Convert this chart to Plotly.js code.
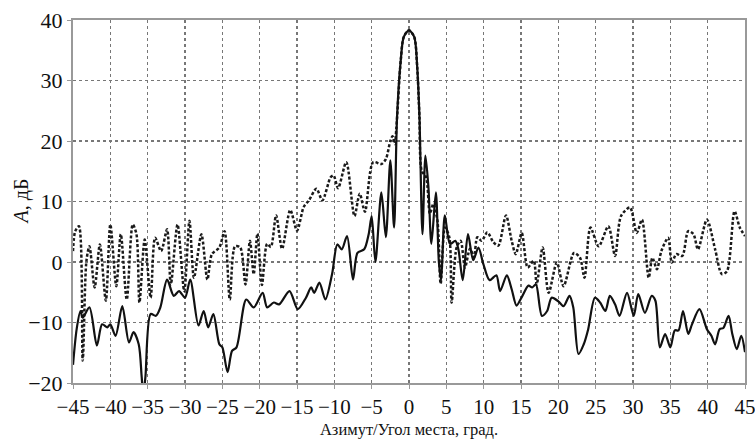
<!DOCTYPE html>
<html>
<head>
<meta charset="utf-8">
<script src="https://cdn.plot.ly/plotly-3.0.1.min.js"></script>
<style>html,body{margin:0;padding:0;background:#fff}#chart{width:755px;height:441px}</style>
</head>
<body>
<div id="chart"></div>
<script>
// Solid curve (angle, deg / level, dB)
const solidX = [-45,-44.5,-44.0,-43.7,-42.8,-41.8,-41.1,-40.4,-40.0,-39.3,-38.4,-37.5,-36.9,-36.2,-35.8,-35.6,-35.3,-34.6,-33.9,-33.3,-32.4,-31.5,-30.8,-30.0,-29.3,-28.2,-27.5,-26.9,-26.2,-25.4,-25.0,-24.3,-23.7,-23.1,-21.8,-20.8,-19.6,-19.0,-18.1,-17.4,-16.0,-14.9,-13.8,-13.1,-12.7,-12.0,-11.2,-10.3,-9.6,-9.0,-8.3,-7.5,-6.9,-6.0,-5.4,-5.0,-4.5,-3.7,-3.1,-2.5,-2.0,-1.6,-1.1,-0.7,0,0.7,1.1,1.4,1.8,2.2,2.6,3.0,3.6,4.0,4.3,4.8,5.5,6.2,6.6,7.2,7.9,8.6,9.3,9.95,10.8,11.7,12.2,13.1,13.75,14.4,15.1,16.0,16.5,17.0,17.8,18.5,19.1,20.0,20.7,21.5,22.0,22.7,23.4,24.0,24.9,25.6,26.3,26.9,27.6,28.2,29.2,30.1,30.7,31.6,32.5,33.0,33.6,34.3,35.0,35.6,36.1,36.7,37.4,37.9,38.9,39.9,40.5,41.0,41.6,42.1,42.8,43.3,43.9,44.5,45.0];
const solidY = [-17,-11,-8.1,-9.2,-7.5,-13.8,-10.3,-10.8,-10.3,-12.2,-7.3,-13.3,-11.6,-13.6,-19,-22,-19,-8.6,-8.9,-7.5,-2.9,-5.6,-4.8,-5.9,-2.9,-10.5,-8.1,-10.8,-8.6,-13.6,-14.1,-18.2,-14.7,-14.1,-6.2,-7.5,-5.1,-7.5,-6.7,-7.0,-4.8,-7.8,-5.9,-4.2,-5.1,-3.4,-6.2,-2.0,2.9,2.1,4.3,-2.9,1.5,2.1,4.6,7.6,0,11.5,4.1,16.8,5.7,24,33.4,37.2,38.3,37.2,32.2,24,4.6,17.6,12.4,3,11.5,0,-3,7.7,3.0,3.5,2.2,-3.0,4.6,0.3,2.4,-0.3,-3.0,-2.2,-4.8,-2.2,-4.5,-7.2,-5.8,-3.9,-4.2,-3.7,-8.9,-8.1,-5.9,-6.5,-7.3,-5.6,-7.5,-15.2,-13.6,-11.1,-5.9,-6.7,-8.1,-5.6,-7.0,-8.9,-5.1,-8.9,-5.3,-8.4,-5.6,-6.4,-14.1,-11.9,-14.1,-11.3,-11.3,-8.1,-11.9,-10.3,-7.8,-11.1,-12.2,-13.6,-11.1,-10.9,-8.9,-11.9,-14.4,-12.2,-14.9];

// Dotted curve (angle, deg / level, dB)
const dottedX = [-45,-44.7,-44.2,-43.7,-43.2,-42.8,-42.1,-41.4,-40.6,-40.0,-39.2,-38.6,-37.8,-37.0,-36.5,-36.1,-35.4,-34.6,-34.0,-33.2,-32.4,-31.9,-31.0,-30.1,-29.4,-28.8,-27.8,-27.0,-26.4,-25.4,-24.7,-24.0,-23.3,-22.6,-21.9,-21.3,-20.8,-20.3,-19.7,-19.0,-18.5,-17.8,-17.0,-15.9,-15.0,-14.1,-13.4,-12.4,-11.6,-10.5,-10.1,-9.5,-8.4,-7.3,-6.6,-5.9,-4.8,-3.7,-3.1,-2.5,-2.2,-1.9,-1.7,-1.1,-0.7,0,0.7,1.1,1.4,1.7,2.3,2.8,3.25,3.8,4.24,4.82,5.4,5.71,6.38,6.92,7.5,8.17,8.7,9.15,9.73,10.49,11.29,11.96,12.99,13.75,14.3,15.1,15.9,16.7,17.1,17.9,18.7,19.8,20.7,22.1,22.9,23.5,24.3,25.4,26.7,27.6,28.4,29.6,30.5,31.2,32.1,32.6,33.2,33.8,34.7,35.2,35.8,36.6,37.4,38.1,38.7,39.9,41.0,41.9,42.6,43.6,44.3,45.0];
const dottedY = [1.8,5.1,5.9,-16.3,0.2,2.6,-4.2,2.9,-6.4,6.2,-4.0,4.6,-6.2,6.2,4.6,-6.7,3.7,-5.9,4.0,1.8,5.4,-3.7,6.2,-4.8,6.8,-2.6,4.6,-2.9,1.3,2.4,5.1,-6.2,2.6,2.4,-3.7,3.5,-2.0,4.7,-3.8,3.0,2.5,7.7,2.2,8.6,5.2,9.1,10.2,12.1,10.2,14.0,14.3,12.2,16.5,7.6,11.3,8.3,16.5,16.2,17.0,20.0,20.8,19.5,22,33.4,37.2,38.3,37.2,32.2,24,15.1,14,8,9.6,6.9,-3.6,5.7,4.1,-6.7,2.4,3.5,-0.9,2.2,0.8,4.1,3.5,4.9,3.3,2.7,7.7,3.5,1.3,4.8,-0.9,0.2,-3.7,2.4,-5.1,-0.1,-4.0,1.5,0.7,-2.6,5.7,2.6,5.9,1.0,7.6,9.0,4.8,7.0,-2.6,0.7,-1.2,1.8,4.0,-0.1,1.3,1.0,5.1,4.6,2.1,7.0,2.1,-2.0,-1.5,8.4,5.7,4.3];

const xTicks = [-45,-40,-35,-30,-25,-20,-15,-10,-5,0,5,10,15,20,25,30,35,40,45];
const yTicks = [-20,-10,0,10,20,30,40];

const serif = 'Liberation Serif, Times New Roman, DejaVu Serif, serif';

const traces = [
  {x: dottedX, y: dottedY, mode: 'lines', type: 'scatter',
   line: {color: '#1a1a1a', width: 2.5, dash: '3px,2px', shape: 'spline', smoothing: 0.8}, hoverinfo: 'skip'},
  {x: solidX, y: solidY, mode: 'lines', type: 'scatter',
   line: {color: '#111', width: 2.2, shape: 'spline', smoothing: 0.8}, hoverinfo: 'skip'}
];

const layout = {
  width: 755, height: 441,
  margin: {l: 73, r: 10, t: 20, b: 58},
  paper_bgcolor: '#fff', plot_bgcolor: '#fff',
  showlegend: false,
  font: {family: serif, color: '#111'},
  xaxis: {
    range: [-45, 45], tickvals: xTicks, ticktext: xTicks.map(v => v < 0 ? '\u2212' + Math.abs(v) : String(v)),
    showgrid: true, gridcolor: '#777', griddash: 'dot', gridwidth: 1.3,
    showline: true, linecolor: '#999', linewidth: 2, mirror: true,
    ticks: 'outside', ticklen: 4, tickcolor: '#999', tickwidth: 1,
    tickfont: {family: serif, size: 21, color: '#111'},
    ticklabeloverflow: 'allow',
    zeroline: false,
    title: {text: 'Азимут/Угол места, град.', font: {family: serif, size: 16.5, color: '#111'}, standoff: 5}
  },
  yaxis: {
    range: [-20, 40], tickvals: yTicks, ticktext: yTicks.map(v => v < 0 ? '\u2212' + Math.abs(v) : String(v)),
    showgrid: true, gridcolor: '#777', griddash: 'dot', gridwidth: 1.3,
    showline: true, linecolor: '#999', linewidth: 2, mirror: true,
    ticks: 'outside', ticklen: 4, tickcolor: '#999', tickwidth: 1,
    tickfont: {family: serif, size: 22, color: '#111'},
    zeroline: false
  },
  annotations: [{
    text: '<i>A</i>, дБ', xref: 'paper', yref: 'paper', x: 0, y: 0.5,
    xanchor: 'center', yanchor: 'middle', xshift: -52, textangle: -90, showarrow: false,
    font: {family: serif, size: 20, color: '#111'}
  }]
};

Plotly.newPlot('chart', traces, layout, {staticPlot: true, displayModeBar: false});
</script>
</body>
</html>
